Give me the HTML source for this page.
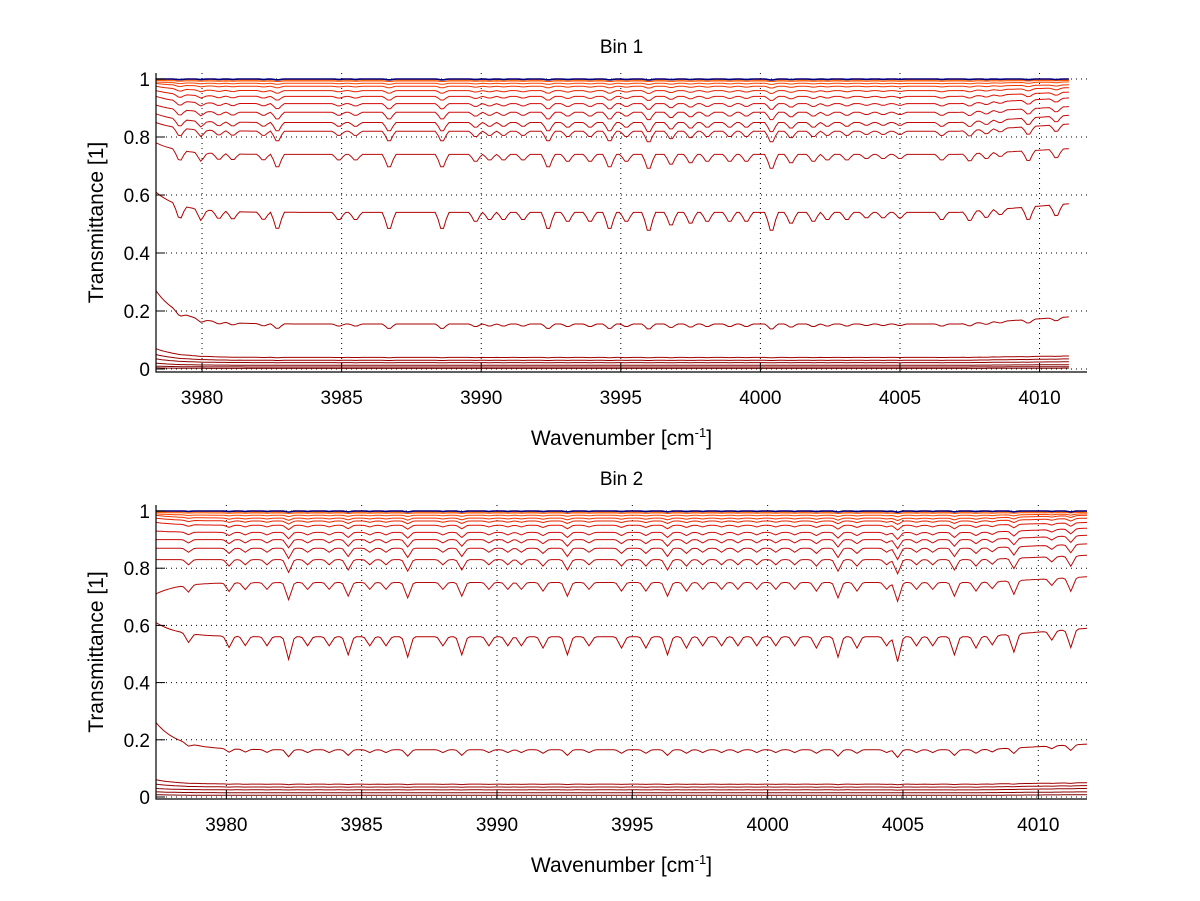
<!DOCTYPE html>
<html><head><meta charset="utf-8"><style>
body{margin:0;background:#fff;}
svg{display:block;font-family:"Liberation Sans",sans-serif;}
</style></head><body>
<svg id="chart" width="1200" height="901" viewBox="0 0 1200 901" xmlns="http://www.w3.org/2000/svg"></svg>
<script>
// ---- data ----
const xTicks = [3980, 3985, 3990, 3995, 4000, 4005, 4010];
const yTicks = [0, 0.2, 0.4, 0.6, 0.8, 1];
const yTickLabels = ["0", "0.2", "0.4", "0.6", "0.8", "1"];
// Bin 1 absorption lines: centers and relative depths
const bin1DipCenters = [3979.2,3979.96,3980.6,3981.1,3982.2,3982.7,3984.9,3985.5,3986.7,3988.6,3989.8,3990.3,3990.8,3991.5,3992.4,3993.1,3993.9,3994.6,3995.2,3996.0,3996.8,3997.5,3998.1,3998.9,3999.5,4000.4,4001.1,4001.9,4002.4,4003.1,4003.8,4004.4,4005.0,4006.5,4007.5,4008.1,4008.6,4009.6,4010.6];
const bin1DipDepths  = [0.7,0.5,0.4,0.4,0.4,0.9,0.4,0.4,0.9,0.9,0.5,0.4,0.4,0.4,0.9,0.5,0.5,0.9,0.5,1.0,0.7,0.6,0.5,0.5,0.5,1.0,0.6,0.5,0.4,0.4,0.3,0.3,0.3,0.4,0.5,0.4,0.3,0.7,0.6];
// Bin 1 series: level at left edge, middle level, right-end level
const bin1Start = [1.0,0.998,0.995,0.99,0.985,0.975,0.96,0.94,0.91,0.88,0.85,0.78,0.61,0.27,0.07,0.05,0.035,0.02,0.01,0.004];
const bin1Mid   = [1.0,0.997,0.993,0.985,0.975,0.96,0.94,0.915,0.885,0.85,0.82,0.74,0.54,0.155,0.04,0.03,0.022,0.013,0.007,0.002];
const bin1End   = [1.0,0.998,0.995,0.99,0.98,0.97,0.955,0.935,0.905,0.875,0.845,0.76,0.57,0.18,0.045,0.035,0.025,0.015,0.008,0.003];
// Bin 2 absorption lines
const bin2DipCenters = [3978.6,3980.1,3980.7,3981.5,3982.3,3983.0,3983.8,3984.5,3985.3,3985.9,3986.7,3988.0,3988.7,3989.7,3990.4,3990.9,3991.7,3992.6,3993.4,3994.6,3995.5,3996.3,3997.0,3997.6,3998.3,3998.9,3999.6,4000.3,4001.0,4001.8,4002.6,4003.3,4004.4,4004.8,4005.5,4006.1,4006.9,4007.7,4008.3,4009.1,4010.5,4011.2];
const bin2DipDepths  = [0.4,0.5,0.4,0.4,1.0,0.4,0.4,0.8,0.4,0.4,0.9,0.4,0.8,0.4,0.4,0.4,0.5,0.8,0.4,0.5,0.5,0.8,0.5,0.4,0.4,0.4,0.4,0.4,0.4,0.5,0.9,0.5,0.4,1.1,0.4,0.4,0.8,0.5,0.4,0.8,0.4,0.8];
const bin2Start = [1.0,0.998,0.995,0.99,0.985,0.975,0.96,0.93,0.9,0.87,0.83,0.71,0.61,0.26,0.06,0.045,0.03,0.018,0.008];
const bin2Mid   = [1.0,0.997,0.993,0.985,0.975,0.965,0.95,0.925,0.9,0.87,0.83,0.75,0.56,0.165,0.045,0.035,0.025,0.015,0.006];
const bin2End   = [1.0,0.998,0.995,0.99,0.985,0.975,0.96,0.94,0.915,0.885,0.845,0.77,0.59,0.185,0.05,0.04,0.03,0.018,0.008];
const seriesColors = ["#000080","#ff6a00","#ff5500","#ff4400","#f23300","#e62200","#dd1100","#d40808","#cc0a0a","#c40a0a","#bd0a0a","#b80a0a","#b00000","#a80000","#a00000","#980000","#900000","#880000","#800000","#780000"];

const svg = document.getElementById('chart');
const NS = "http://www.w3.org/2000/svg";
function mk(tag, attrs, parent){const e=document.createElementNS(NS,tag);for(const k in attrs)e.setAttribute(k,attrs[k]);(parent||svg).appendChild(e);return e;}

function drawPanel(p){
  const g = mk('g',{});
  
  
  const sx = v => p.left + (v - p.xmin) / (p.xmax - p.xmin) * (p.right - p.left);
  const sy = v => p.y0 + (p.y1 - p.y0) * v;
  xTicks.forEach(t=>{
    const l=mk('line',{x1:sx(t),x2:sx(t),y1:p.top,y2:p.bottom,stroke:'#000','stroke-width':1,'stroke-dasharray':'1,4'},g);
    
    
  });
  yTicks.forEach(t=>{
    const l=mk('line',{x1:p.left,x2:p.right,y1:sy(t),y2:sy(t),stroke:'#000','stroke-width':1,'stroke-dasharray':'1,4'},g);
    
    
  });
  const n = p.start.length;
  for(let s=n-1;s>=0;s--){
    const L0=p.start[s], Lm=p.mid[s], Le=p.end[s];
    let f = Lm*(1-Lm)*4;
    if(Lm<0.3) f *= Lm/0.3;
    const xEnd = p.dataEnd;
    let pts=[];
    for(let w=p.xmin; w<=xEnd+1e-9; w+=0.1){
      let base;
      const u=(w-p.xmin);
      base = Lm + (L0-Lm)*Math.exp(-u*1.2);
      const re=(w-(xEnd-4)); if(re>0) base += (Le-Lm)*(re/4);
      let A=0;
      for(let i=0;i<p.dc.length;i++){const d=Math.abs(w-p.dc[i]); if(d<0.22) A+=p.dd[i]*(1-d/0.22);}
      let v = base - 0.08*A*f;
      if(s===0) v = 1.0 - 0.004*A;
      v=Math.min(v,1.01);
      pts.push(sx(w).toFixed(1)+','+sy(v).toFixed(1));
    }
    const pl=mk('polyline',{points:pts.join(' '),fill:'none',stroke:seriesColors[s],'stroke-width':s===0?1.6:1},g);
    
    
  }
  const ax=mk('path',{d:`M${p.left},${p.top} V${p.bottom} H${p.right}`,stroke:'#000','stroke-width':1.2,fill:'none'},g);
  
  
  xTicks.forEach(t=>{
    mk('line',{x1:sx(t),x2:sx(t),y1:p.bottom,y2:p.bottom-9,stroke:'#000'},g);
    const tx=mk('text',{x:sx(t),y:p.bottom+32,'font-size':19,'text-anchor':'middle',fill:'#000'},g);
    tx.textContent=t;
    
    
  });
  yTicks.forEach((t,i)=>{
    mk('line',{x1:p.left,x2:p.left+9,y1:sy(t),y2:sy(t),stroke:'#000'},g);
    const tx=mk('text',{x:p.left-6,y:sy(t)+7,'font-size':19,'text-anchor':'end',fill:'#000'},g);
    tx.textContent=yTickLabels[i];
    
    
  });
  const ti=mk('text',{x:(p.left+p.right)/2,y:p.top-20,'font-size':19,'text-anchor':'middle',fill:'#000'},g);
  ti.textContent=p.title;
  
  
  const xl=mk('text',{x:(p.left+p.right)/2,y:p.bottom+73,'font-size':21,'text-anchor':'middle',fill:'#000'},g);
  xl.innerHTML='Wavenumber [cm<tspan dy="-8" font-size="13">-1</tspan><tspan dy="8">]</tspan>';
  
  
  const cy=(p.top+p.bottom)/2;
  const yl=mk('text',{x:103,y:cy,'font-size':21,'text-anchor':'middle',fill:'#000',transform:`rotate(-90 103 ${cy})`},g);
  yl.textContent='Transmittance [1]';
  
  
}

drawPanel({name:'bin-1-panel',title:'Bin 1',left:156,right:1087,top:73,bottom:372,y0:369,y1:79,
  xmin:3978.35,xmax:4011.7,dataEnd:4011.1,dc:bin1DipCenters,dd:bin1DipDepths,start:bin1Start,mid:bin1Mid,end:bin1End});
drawPanel({name:'bin-2-panel',title:'Bin 2',left:156,right:1087,top:505,bottom:799,y0:797,y1:511,
  xmin:3977.4,xmax:4011.8,dataEnd:4011.8,dc:bin2DipCenters,dd:bin2DipDepths,start:bin2Start,mid:bin2Mid,end:bin2End});
</script>
</body></html>
